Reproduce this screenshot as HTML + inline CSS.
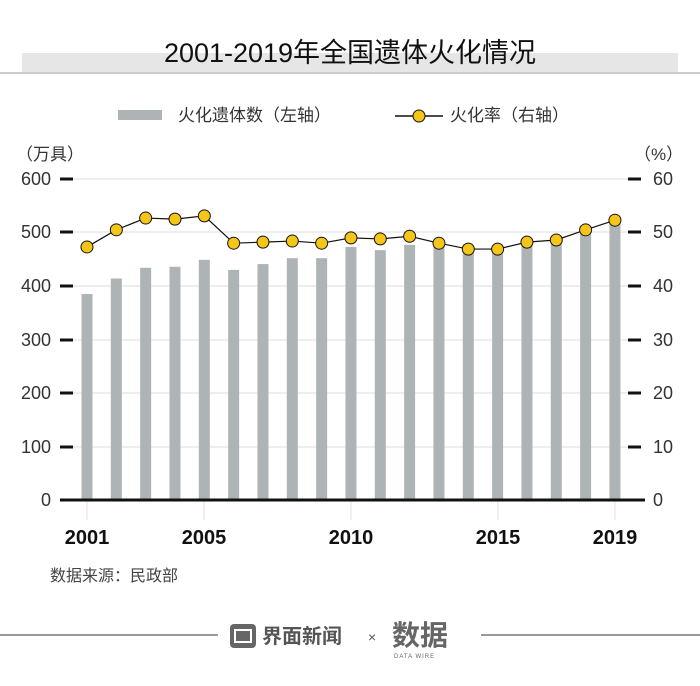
<!DOCTYPE html>
<html><head><meta charset="utf-8"><style>
body{margin:0;width:700px;height:681px;background:#fff;overflow:hidden;font-family:"Liberation Sans","Noto Sans CJK SC",sans-serif}
</style></head><body>
<svg width="700" height="681" xmlns="http://www.w3.org/2000/svg" font-family="Liberation Sans, Noto Sans CJK SC, sans-serif">
<rect x="22" y="53" width="656" height="19" fill="#e6e6e6"/>
<line x1="0" y1="73" x2="700" y2="73" stroke="#999" stroke-width="1"/>
<text x="350" y="62" text-anchor="middle" font-size="27" fill="#111">2001-2019年全国遗体火化情况</text>
<rect x="118" y="110" width="44" height="10" fill="#aeb4b5"/>
<text x="178" y="121" font-size="17" fill="#333">火化遗体数（左轴）</text>
<line x1="395" y1="116" x2="443" y2="116" stroke="#111" stroke-width="1.5"/>
<circle cx="419" cy="116" r="6" fill="#f5c518" stroke="#111" stroke-width="1"/>
<text x="450" y="121" font-size="17" fill="#333">火化率（右轴）</text>
<text x="16" y="160" font-size="17" fill="#333">（万具）</text>
<text x="634" y="160" font-size="17" fill="#333">（%）</text>
<g font-size="18" fill="#333">
<g stroke="#ddd" stroke-width="1">
<line x1="73" y1="179" x2="628" y2="179"/><line x1="73" y1="232" x2="628" y2="232"/><line x1="73" y1="286" x2="628" y2="286"/><line x1="73" y1="340" x2="628" y2="340"/><line x1="73" y1="393" x2="628" y2="393"/><line x1="73" y1="447" x2="628" y2="447"/>
</g>
<g stroke="#111" stroke-width="3">
<line x1="60" y1="179" x2="73" y2="179"/><line x1="60" y1="232" x2="73" y2="232"/><line x1="60" y1="286" x2="73" y2="286"/><line x1="60" y1="340" x2="73" y2="340"/><line x1="60" y1="393" x2="73" y2="393"/><line x1="60" y1="447" x2="73" y2="447"/>
<line x1="628" y1="179" x2="641" y2="179"/><line x1="628" y1="232" x2="641" y2="232"/><line x1="628" y1="286" x2="641" y2="286"/><line x1="628" y1="340" x2="641" y2="340"/><line x1="628" y1="393" x2="641" y2="393"/><line x1="628" y1="447" x2="641" y2="447"/>
</g>
<g text-anchor="end">
<text x="51" y="185">600</text><text x="51" y="238">500</text><text x="51" y="292">400</text><text x="51" y="346">300</text><text x="51" y="399">200</text><text x="51" y="453">100</text><text x="51" y="506">0</text>
</g>
<g>
<text x="653" y="185">60</text><text x="653" y="238">50</text><text x="653" y="292">40</text><text x="653" y="346">30</text><text x="653" y="399">20</text><text x="653" y="453">10</text><text x="653" y="506">0</text>
</g>
</g>
<g stroke="#e0e0e0" stroke-width="1">
<line x1="87" y1="500" x2="87" y2="520"/><line x1="204" y1="500" x2="204" y2="520"/><line x1="351" y1="500" x2="351" y2="520"/><line x1="498" y1="500" x2="498" y2="520"/><line x1="615" y1="500" x2="615" y2="520"/>
</g>
<g fill="#aeb4b5" id="bars"></g>
<line x1="60" y1="500" x2="645" y2="500" stroke="#111" stroke-width="3"/>
<polyline id="ln" fill="none" stroke="#111" stroke-width="1.2"/>
<g id="dots"></g>
<g font-size="20" font-weight="bold" fill="#111" text-anchor="middle">
<text x="87" y="544">2001</text><text x="204" y="544">2005</text><text x="351" y="544">2010</text><text x="498" y="544">2015</text><text x="615" y="544">2019</text>
</g>
<text x="50" y="581" font-size="16" fill="#444">数据来源：民政部</text>
<line x1="0" y1="635" x2="218" y2="635" stroke="#333" stroke-width="1"/>
<line x1="481" y1="635" x2="700" y2="635" stroke="#333" stroke-width="1"/>
<rect x="230" y="624" width="26" height="24" rx="4" fill="#666"/>
<rect x="235" y="630" width="16" height="12" fill="none" stroke="#fff" stroke-width="2"/>
<text x="262" y="643" font-size="20" font-weight="bold" fill="#555">界面新闻</text>
<text x="368" y="642" font-size="14" fill="#555">×</text>
<text x="392" y="645" font-size="28" font-weight="bold" fill="#666">数据</text>
<text x="394" y="658" font-size="6" fill="#666" letter-spacing="1">DATA WIRE</text>
</svg>
<script>
var cnt=[385,414,434,436,449,430,441,452,452,473,467,477,480,470,470,480,485,500,520];
var rate=[47.3,50.5,52.7,52.5,53.1,48.0,48.2,48.4,48.0,49.0,48.8,49.3,48.0,46.9,46.9,48.2,48.6,50.5,52.3];
var ns="http://www.w3.org/2000/svg",b=document.getElementById("bars"),d=document.getElementById("dots"),pts=[];
for(var i=0;i<19;i++){var x=87+i*29.33;var h=cnt[i]*0.535;
var r=document.createElementNS(ns,"rect");r.setAttribute("x",x-5.5);r.setAttribute("y",500-h);r.setAttribute("width",11);r.setAttribute("height",h);b.appendChild(r);
var y=500-rate[i]*5.35;pts.push(x+","+y);
var c=document.createElementNS(ns,"circle");c.setAttribute("cx",x);c.setAttribute("cy",y);c.setAttribute("r",6);c.setAttribute("fill","#f5c518");c.setAttribute("stroke","#111");c.setAttribute("stroke-width","1");d.appendChild(c);}
document.getElementById("ln").setAttribute("points",pts.join(" "));
</script>
</body></html>
